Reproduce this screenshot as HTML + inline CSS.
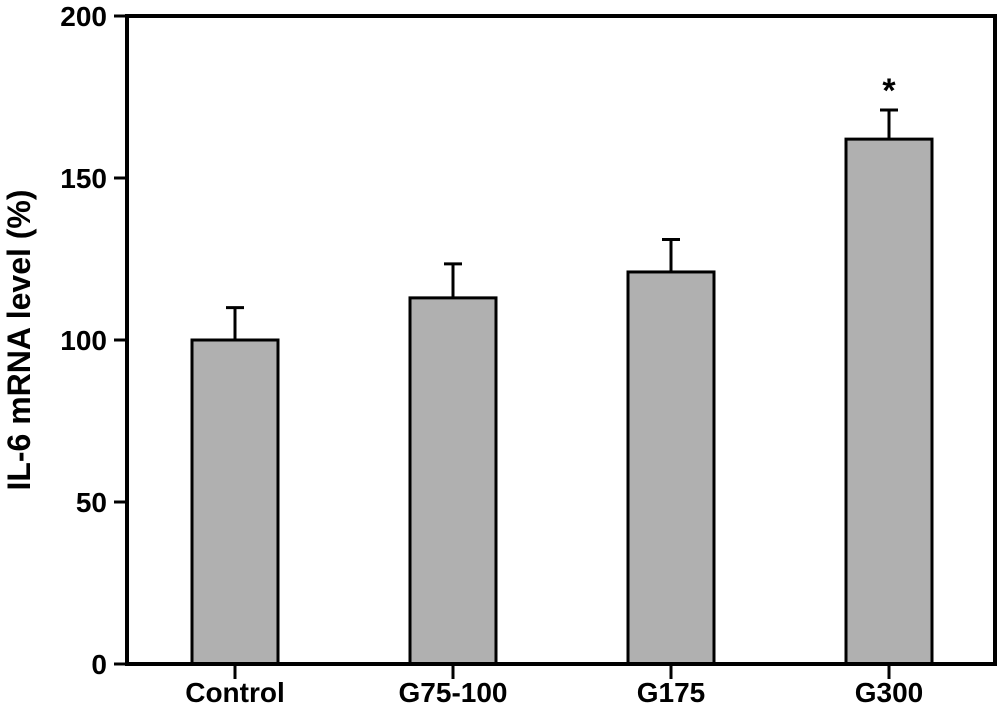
<!DOCTYPE html>
<html><head><meta charset="utf-8"><style>
html,body{margin:0;padding:0;background:#fff;}
svg{display:block;font-family:"Liberation Sans",Arial,sans-serif;font-weight:bold;}
</style></head><body>
<svg id="chart" width="1000" height="710" viewBox="0 0 1000 710" xmlns="http://www.w3.org/2000/svg">
<g id="plot"></g>
</svg>
<script>
const categories = ["Control","G75-100","G175","G300"];
const values = [100, 113, 121, 162];
const errors = [10, 10.5, 10, 9];
const sigMarks = ["", "", "", "*"];
const yTicks = [0, 50, 100, 150, 200];

const NS = "http://www.w3.org/2000/svg";
const X0 = 127, X1 = 995, Y0 = 664, Y1 = 16;
const yMax = 200;
function y(v){ return Y0 - (v / yMax) * (Y0 - Y1); }
const firstCenter = 235, step = 218, barW = 86;
function x(i){ return firstCenter + i * step; }
const g = document.getElementById('plot');
function mk(tag, attrs){ const e = document.createElementNS(NS, tag); for (const k in attrs) e.setAttribute(k, attrs[k]); g.appendChild(e); return e; }

categories.forEach((c, i) => {
  const cx = x(i), top = y(values[i]), et = y(values[i] + errors[i]);
  const eb = mk('line', {x1:cx, x2:cx, y1:et, y2:top, stroke:'#000', 'stroke-width':3});
  
  
  const cap = mk('line', {x1:cx-9, x2:cx+9, y1:et, y2:et, stroke:'#000', 'stroke-width':3});
  
  
  const r = mk('rect', {x:cx-barW/2, y:top, width:barW, height:Y0-top, fill:'#b0b0b0', stroke:'#000', 'stroke-width':3});
  
  
  const t = mk('line', {x1:cx, x2:cx, y1:Y0, y2:Y0+15, stroke:'#000', 'stroke-width':3});
  
  
  const l = mk('text', {x:cx, y:702, 'text-anchor':'middle', 'font-size':28});
  l.textContent = c;
  
  
  if (sigMarks[i]) {
    const s = mk('text', {x:cx, y:et-8, 'text-anchor':'middle', 'font-size':34});
    s.textContent = sigMarks[i];
    
    
  }
});

yTicks.forEach(v => {
  const t = mk('line', {x1:X0-13, x2:X0, y1:y(v), y2:y(v), stroke:'#000', 'stroke-width':3});
  
  
  const l = mk('text', {x:X0-20, y:y(v)+10, 'text-anchor':'end', 'font-size':28});
  l.textContent = v;
  
  
});

const frame = mk('rect', {x:X0, y:Y1, width:X1-X0, height:Y0-Y1, fill:'none', stroke:'#000', 'stroke-width':4});



const yt = mk('text', {x:0, y:0, 'text-anchor':'middle', 'font-size':32, transform:'translate(30,340) rotate(-90)'});
yt.textContent = 'IL-6 mRNA level (%)';


</script>
</body></html>
